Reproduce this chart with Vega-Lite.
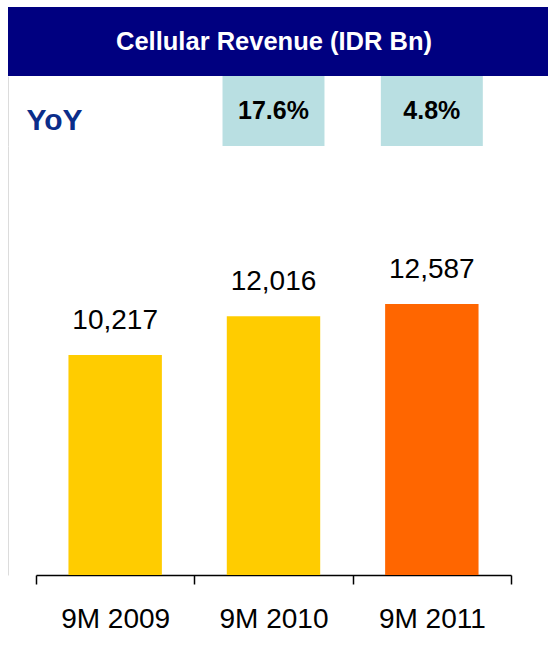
{
  "$schema": "https://vega.github.io/schema/vega-lite/v6.json",
  "padding": {"left": 8, "top": 7, "right": 0, "bottom": 0},
  "bounds": "flush",
  "spacing": 0,
  "background": "white",
  "config": {
    "view": {"stroke": null},
    "font": "Liberation Sans"
  },
  "datasets": {
    "rev": [
      {"period": "9M 2009", "revenue": 10217, "yoy": null, "kind": "prior"},
      {"period": "9M 2010", "revenue": 12016, "yoy": 0.176, "kind": "prior"},
      {"period": "9M 2011", "revenue": 12587, "yoy": 0.048, "kind": "current"}
    ],
    "head": [{"title": "Cellular Revenue (IDR Bn)"}]
  },
  "vconcat": [
    {
      "width": 540,
      "height": 69,
      "view": {"fill": "#000080", "stroke": null},
      "data": {"name": "head"},
      "mark": {"type": "text", "color": "white", "fontSize": 25.5, "fontWeight": "bold", "font": "Liberation Sans", "dx": -4, "baseline": "middle", "align": "center"},
      "encoding": {"text": {"field": "title"}}
    },
    {
      "width": 540,
      "height": 70,
      "data": {"name": "rev"},
      "transform": [{"filter": "datum.yoy != null"}],
      "encoding": {
        "x": {
          "field": "period", "type": "nominal",
          "scale": {"type": "band", "domain": ["9M 2009", "9M 2010", "9M 2011"], "range": [28, 503], "paddingInner": 0.356, "paddingOuter": 0.178},
          "axis": null
        },
        "y": {
          "datum": "YoY", "type": "nominal",
          "scale": {"type": "band", "paddingInner": 0, "paddingOuter": 0},
          "axis": {"title": null, "domain": true, "domainColor": "#dcdcdc", "ticks": false, "tickSize": 0, "labelAlign": "left", "labelPadding": -18, "labelOffset": 10, "labelFontSize": 30, "labelFontWeight": "bold", "labelColor": "#0B2D8A", "labelFont": "Liberation Sans", "labelBaseline": "middle"}
        }
      },
      "layer": [
        {"mark": {"type": "rect", "color": "#B9DFE2"}},
        {
          "mark": {"type": "text", "fontSize": 25, "fontWeight": "bold", "color": "#000", "font": "Liberation Sans", "baseline": "middle"},
          "encoding": {"text": {"field": "yoy", "type": "quantitative", "format": ".1%"}}
        }
      ]
    },
    {
      "width": 540,
      "height": 429,
      "data": {"name": "rev"},
      "encoding": {
        "x": {
          "field": "period", "type": "nominal",
          "scale": {"type": "band", "domain": ["9M 2009", "9M 2010", "9M 2011"], "range": [28, 503], "paddingInner": 0, "paddingOuter": 0},
          "axis": {"title": null, "labelAngle": 0, "tickBand": "extent", "domainColor": "#000", "domainWidth": 1.5, "tickColor": "#000", "tickWidth": 1.5, "tickSize": 9, "labelFontSize": 28, "labelColor": "#000", "labelFont": "Liberation Sans", "labelPadding": 21, "grid": false}
        },
        "y": {
          "field": "revenue", "type": "quantitative",
          "scale": {"domain": [0, 19918], "nice": false, "zero": true},
          "axis": {"title": null, "domain": true, "domainColor": "#dcdcdc", "ticks": false, "labels": false, "grid": false}
        }
      },
      "layer": [
        {
          "mark": {"type": "bar", "width": {"band": 0.59}},
          "encoding": {
            "color": {"field": "kind", "type": "nominal", "scale": {"domain": ["prior", "current"], "range": ["#FFCC00", "#FF6600"]}, "legend": null}
          }
        },
        {
          "mark": {"type": "text", "fontSize": 28, "color": "#000", "font": "Liberation Sans", "baseline": "alphabetic", "dy": -26},
          "encoding": {"text": {"field": "revenue", "type": "quantitative", "format": ","}}
        }
      ]
    }
  ]
}
